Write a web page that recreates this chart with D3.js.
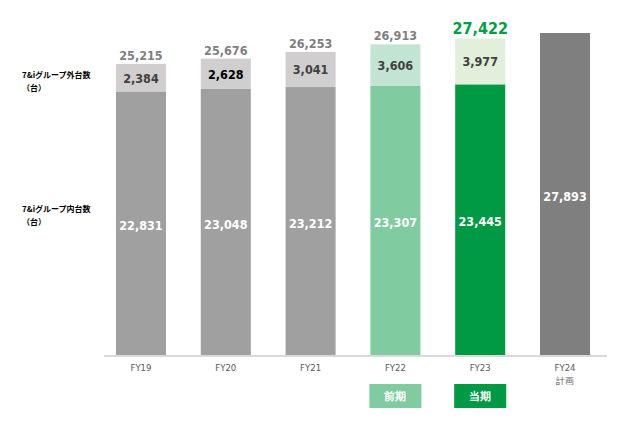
<!DOCTYPE html>
<meta charset="utf-8" />
<style>
  body {
    margin: 0;
    background: #fff;
  }
  #chart {
    width: 621px;
    height: 422px;
  }
  text {
    font-family: "DejaVu Sans Condensed", Verdana, "DejaVu Sans", sans-serif;
  }
  .side {
    font-family: "Noto Sans CJK JP", sans-serif;
    font-size: 8px;
    font-weight: bold;
    fill: #000;
  }
</style>
<body>
  <div id="chart"></div>
  <script src="https://cdn.jsdelivr.net/npm/d3@7"></script>
  <script>
    const years = ["FY19", "FY20", "FY21", "FY22", "FY23", "FY24"];
    const inside = [22831, 23048, 23212, 23307, 23445, 27893];
    const outside = [2384, 2628, 3041, 3606, 3977, null];
    const totals = [25215, 25676, 26253, 26913, 27422, null];
    const subLabels = ["", "", "", "", "", "計画"];
    const legendItems = [
      { year: "FY22", label: "前期", color: "#80cba0" },
      { year: "FY23", label: "当期", color: "#009a44" },
    ];

    const innerColors = ["#a0a0a0", "#a0a0a0", "#a0a0a0", "#80cba0", "#009a44", "#7f7f7f"];
    const outerColors = ["#d0cece", "#d0cece", "#d0cece", "#c1e5d2", "#e2efda", null];

    const width = 621;
    const height = 422;

    const svg = d3
      .select("#chart")
      .append("svg")
      .attr("width", width)
      .attr("height", height);

    const x = d3
      .scaleBand()
      .domain(years)
      .range([99, 607])
      .paddingInner(0.41)
      .paddingOuter(0.2);

    const y = d3.scaleLinear().domain([0, 27893]).range([355, 33]);

    // axis line
    svg
      .append("line")
      .attr("x1", 104)
      .attr("x2", 607)
      .attr("y1", y(0) + 1)
      .attr("y2", y(0) + 1)
      .attr("stroke", "#d9d9d9")
      .attr("stroke-width", 2);

    const g = svg.append("g");

    // inside bars
    g.selectAll(".in")
      .data(years)
      .enter()
      .append("rect")
      .attr("x", (d) => x(d))
      .attr("width", x.bandwidth())
      .attr("y", (d, i) => y(inside[i]))
      .attr("height", (d, i) => y(0) - y(inside[i]))
      .attr("fill", (d, i) => innerColors[i]);

    // outside bars
    g.selectAll(".out")
      .data(years.filter((d, i) => outside[i] != null))
      .enter()
      .append("rect")
      .attr("x", (d) => x(d))
      .attr("width", x.bandwidth())
      .attr("y", (d, i) => y(inside[i] + outside[i]))
      .attr("height", (d, i) => y(inside[i]) - y(inside[i] + outside[i]))
      .attr("fill", (d, i) => outerColors[i]);

    const fmt = d3.format(",");

    // inside labels
    g.selectAll(".inLab")
      .data(years)
      .enter()
      .append("text")
      .attr("x", (d) => x(d) + x.bandwidth() / 2)
      .attr("y", (d, i) => (i === 5 ? 200.5 : 229.5 - i * 0.9))
      .attr("text-anchor", "middle")
      .attr("font-size", 12.5)
      .attr("font-weight", "bold")
      .attr("fill", "#fff")
      .text((d, i) => fmt(inside[i]));

    // outside labels
    g.selectAll(".outLab")
      .data(years.filter((d, i) => outside[i] != null))
      .enter()
      .append("text")
      .attr("x", (d) => x(d) + x.bandwidth() / 2)
      .attr("y", (d, i) => (y(inside[i]) + y(inside[i] + outside[i])) / 2 + 5)
      .attr("text-anchor", "middle")
      .attr("font-size", 12.5)
      .attr("font-weight", "bold")
      .attr("fill", (d, i) => (i === 1 ? "#000" : "#404040"))
      .text((d, i) => fmt(outside[i]));

    // totals
    g.selectAll(".tot")
      .data(years.filter((d, i) => totals[i] != null))
      .enter()
      .append("text")
      .attr("x", (d) => x(d) + x.bandwidth() / 2)
      .attr("y", (d, i) => y(totals[i]) - 4)
      .attr("text-anchor", "middle")
      .attr("font-size", (d, i) => (i === 4 ? 16 : 12.5))
      .attr("font-weight", "bold")
      .attr("fill", (d, i) => (i === 4 ? "#00a040" : "#7f7f7f"))
      .text((d, i) => fmt(totals[i]));

    // x labels
    g.selectAll(".xl")
      .data(years)
      .enter()
      .append("text")
      .attr("x", (d) => x(d) + x.bandwidth() / 2)
      .attr("y", 371)
      .attr("text-anchor", "middle")
      .attr("font-size", 9.5)
      .attr("fill", "#595959")
      .text((d) => d);

    g.selectAll(".xs")
      .data(years)
      .enter()
      .append("text")
      .attr("x", (d) => x(d) + x.bandwidth() / 2)
      .attr("y", 384)
      .attr("text-anchor", "middle")
      .attr("font-size", 9)
      .attr("font-family", "Noto Sans CJK JP")
      .attr("fill", "#595959")
      .text((d, i) => subLabels[i]);

    // legend boxes
    const lg = svg
      .selectAll(".lg")
      .data(legendItems)
      .enter()
      .append("g");
    lg.append("rect")
      .attr("x", (d) => x(d.year) - 1)
      .attr("y", 384)
      .attr("width", x.bandwidth() + 2)
      .attr("height", 24)
      .attr("fill", (d) => d.color);
    lg.append("text")
      .attr("x", (d) => x(d.year) + x.bandwidth() / 2)
      .attr("y", 400)
      .attr("text-anchor", "middle")
      .attr("font-size", 11)
      .attr("font-weight", "bold")
      .attr("font-family", "Noto Sans CJK JP")
      .attr("fill", "#fff")
      .text((d) => d.label);

    // side labels
    const side = [
      ["7&iグループ外台数", 22, 78],
      ["（台）", 22, 91],
      ["7&iグループ内台数", 22, 212],
      ["（台）", 22, 225],
    ];
    svg
      .selectAll(".side")
      .data(side)
      .enter()
      .append("text")
      .attr("class", "side")
      .attr("x", (d) => d[1])
      .attr("y", (d) => d[2])
      .text((d) => d[0]);
  </script>
</body>
